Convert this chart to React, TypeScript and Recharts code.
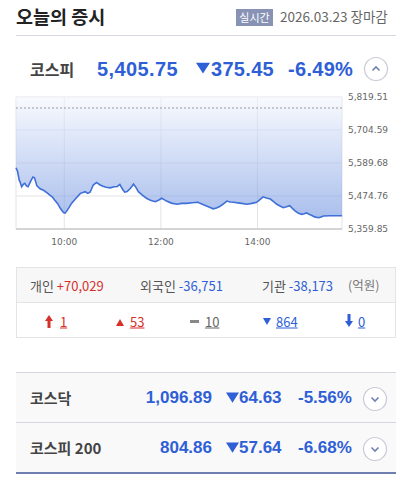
import React from "react";
import {
  Area,
  AreaChart,
  CartesianGrid,
  ReferenceLine,
  XAxis,
  YAxis,
} from "recharts";

// minutes since midnight, KOSPI intraday
const times = [
  540, 542, 544, 545, 547, 549, 551, 553, 555, 558, 561, 563, 566, 570, 574, 578,
  582, 585, 588, 592, 595, 599, 601, 603, 606, 609, 614, 620, 624, 626, 629, 632,
  634, 636, 640, 644, 648, 652, 657, 662, 666, 669, 672, 675, 678, 682, 686, 689,
  692, 697, 702, 707, 713, 717, 721, 724, 727, 733, 740, 746, 752, 759, 766, 773,
  779, 785, 789, 793, 797, 802, 806, 810, 818, 827, 833, 839, 843, 847, 851, 856,
  860, 864, 868, 872, 876, 880, 884, 887, 891, 895, 898, 901, 904, 907, 911, 916,
  919, 922, 930, 938, 945,
];
const prices = [
  5573, 5560, 5530, 5524, 5507, 5515, 5519, 5510, 5507, 5525, 5541, 5538, 5510, 5500, 5495, 5487,
  5478, 5472, 5461, 5447, 5432, 5417, 5415, 5422, 5435, 5449, 5465, 5484, 5488, 5490, 5484, 5488,
  5500, 5513, 5522, 5514, 5509, 5505, 5503, 5507, 5508, 5515, 5500, 5488, 5490, 5501, 5516, 5505,
  5490, 5478, 5467, 5460, 5455, 5460, 5467, 5462, 5457, 5450, 5446, 5449, 5449, 5451, 5453, 5444,
  5437, 5430, 5433, 5438, 5446, 5457, 5454, 5453, 5450, 5446, 5449, 5453, 5462, 5472, 5468, 5464,
  5455, 5446, 5440, 5434, 5437, 5441, 5430, 5422, 5415, 5411, 5413, 5416, 5411, 5408, 5402, 5399,
  5402, 5405, 5406, 5406, 5406,
];
const priceTicks = [5359.85, 5474.76, 5589.68, 5704.59, 5819.51];
const timeTicks = [600, 720, 840];
const prevClose = 5781.2;

const investorLabels = ["개인", "외국인", "기관"];
const investorValues = ["+70,029", "-36,751", "-38,173"];
const breadthValues = ["1", "53", "10", "864", "0"];

const otherNames = ["코스닥", "코스피 200"];
const otherPrices = ["1,096.89", "804.86"];
const otherChanges = ["64.63", "57.64"];
const otherRates = ["-5.56%", "-6.68%"];

const BLUE = "#2f5fd6";
const RED = "#d6302b";
const KR = "'Noto Sans CJK KR', sans-serif";
const NUM = "'Liberation Sans', Arial, sans-serif";

const chartData = times.map((t, i) => ({ t, v: prices[i] }));

const fmtTime = (m: number) =>
  `${Math.floor(m / 60)}:${String(m % 60).padStart(2, "0")}`;
const fmtPrice = (v: number) =>
  v.toLocaleString("en-US", { minimumFractionDigits: 2, maximumFractionDigits: 2 });

function T({
  x,
  y,
  size,
  color,
  bold,
  font,
  right,
  children,
  underline,
  spacing,
}: any) {
  return (
    <div
      style={{
        position: "absolute",
        left: right ? undefined : x,
        right: right ? 407 - x : undefined,
        top: y,
        transform: "translateY(-50%)",
        fontSize: size,
        lineHeight: 1,
        color,
        fontWeight: bold ? 700 : 400,
        fontFamily: font ?? KR,
        whiteSpace: "nowrap",
        letterSpacing: spacing ?? 0,
        textDecoration: underline ? "underline" : "none",
      }}
    >
      {children}
    </div>
  );
}

function Circle({ x, y, up }: { x: number; y: number; up?: boolean }) {
  return (
    <svg
      width={26}
      height={26}
      style={{ position: "absolute", left: x - 13, top: y - 13 }}
    >
      <circle cx={13} cy={13} r={11.5} fill="#fff" stroke="#c9cad6" strokeWidth={1.2} />
      <path
        d={up ? "M9.5 14.5 L13 11 L16.5 14.5" : "M9.5 11.5 L13 15 L16.5 11.5"}
        fill="none"
        stroke="#7080b0"
        strokeWidth={1.6}
      />
    </svg>
  );
}

function Down({ x, y, size }: { x: number; y: number; size: number }) {
  return (
    <svg width={size} height={size} style={{ position: "absolute", left: x, top: y - size / 2 }}>
      <path d={`M0 ${size * 0.12} L${size} ${size * 0.12} L${size / 2} ${size * 0.9} Z`} fill={BLUE} />
    </svg>
  );
}

export default function App() {
  const xs = [30, 140, 262];
  const breadthX = [60, 130, 205, 276, 358];
  const breadthColor = [RED, RED, "#666", BLUE, BLUE];
  return (
    <div
      style={{
        position: "fixed",
        left: 0,
        top: 0,
        width: 407,
        height: 481,
        background: "#fff",
        overflow: "hidden",
      }}
    >
      <T x={16} y={16} size={18.5} color="#222" bold>
        오늘의 증시
      </T>
      <div
        style={{
          position: "absolute",
          left: 236,
          top: 9,
          width: 37,
          height: 17,
          background: "#8892b5",
          color: "#fff",
          fontFamily: KR,
          fontSize: 11,
          lineHeight: "17px",
          textAlign: "center",
        }}
      >
        실시간
      </div>
      <T x={280} y={17} size={13.5} color="#666">
        2026.03.23 장마감
      </T>
      <div style={{ position: "absolute", left: 16, top: 35, width: 380, height: 1, background: "#d6d6de" }} />

      <T x={30} y={69} size={16} color="#444" bold>
        코스피
      </T>
      <T x={97} y={69} size={20} color={BLUE} bold font={NUM} spacing={0.4}>
        5,405.75
      </T>
      <Down x={196} y={68} size={14} />
      <T x={211} y={69} size={20} color={BLUE} bold font={NUM} spacing={0.3}>
        375.45
      </T>
      <T x={288} y={69} size={20} color={BLUE} bold font={NUM} spacing={0.3}>
        -6.49%
      </T>
      <Circle x={376} y={69} up />

      <div style={{ position: "absolute", left: 0, top: 85 }}>
        <AreaChart
          width={407}
          height={170}
          data={chartData}
          margin={{ top: 12, right: 0, left: 16, bottom: 6 }}
        >
          <defs>
            <linearGradient id="kospiFill" x1="0" y1="0" x2="0" y2="1">
              <stop offset="0%" stopColor="#f3f6fd" stopOpacity={0.95} />
              <stop offset="100%" stopColor="#6a8fdf" stopOpacity={0.95} />
            </linearGradient>
          </defs>
          <CartesianGrid stroke="#e4e4e8" />
          <XAxis
            dataKey="t"
            type="number"
            domain={[540, 945]}
            ticks={timeTicks}
            tickFormatter={fmtTime}
            height={20}
            tickLine={false}
            axisLine={{ stroke: "#b8b8b8" }}
            tick={{ fontSize: 9, fill: "#666", fontFamily: "'DejaVu Sans'" }}
            tickMargin={4}
          />
          <YAxis
            orientation="right"
            type="number"
            domain={[priceTicks[0], priceTicks[4]]}
            ticks={priceTicks}
            tickFormatter={fmtPrice}
            width={65}
            tickLine={false}
            axisLine={false}
            tickSize={0}
            tickMargin={6}
            tick={{ fontSize: 9, fill: "#666", fontFamily: "'DejaVu Sans'", textAnchor: "start" }}
          />
          <ReferenceLine y={prevClose} stroke="#9a9a9a" strokeDasharray="2 2" />
          <Area
            type="linear"
            dataKey="v"
            baseValue={priceTicks[4]}
            stroke="#3f6fd8"
            strokeWidth={1.6}
            fill="url(#kospiFill)"
            isAnimationActive={false}
            dot={false}
          />
        </AreaChart>
      </div>

      <div
        style={{
          position: "absolute",
          left: 16,
          top: 267,
          width: 378,
          height: 69,
          border: "1px solid #e4e4e6",
        }}
      >
        <div style={{ height: 34, background: "#f7f7f8", borderBottom: "1px solid #e4e4e6" }} />
      </div>
      {investorLabels.map((l, i) => (
        <T key={l} x={xs[i]} y={285} size={13} color="#555">
          {l}{" "}
          <span style={{ color: i === 0 ? RED : BLUE }}>{investorValues[i]}</span>
        </T>
      ))}
      <T x={348} y={285} size={12.5} color="#777">
        (억원)
      </T>

      <svg width={407} height={20} style={{ position: "absolute", left: 0, top: 311 }}>
        <path d="M45 10 L49 4 L53 10 L50.5 10 L50.5 17 L47.5 17 L47.5 10 Z" fill={RED} />
        <path d="M116 15 L120 8 L124 15 Z" fill={RED} />
        <rect x={190} y={9} width={9} height={3} fill="#888" />
        <path d="M263 7 L271 7 L267 14 Z" fill={BLUE} />
        <path d="M345 10 L349 16 L353 10 L350.5 10 L350.5 3 L347.5 3 L347.5 10 Z" fill={BLUE} />
      </svg>
      {breadthValues.map((v, i) => (
        <T key={i} x={breadthX[i]} y={321} size={13} color={breadthColor[i]} underline>
          {v}
        </T>
      ))}

      <div
        style={{
          position: "absolute",
          left: 16,
          top: 372,
          width: 380,
          height: 100,
          background: "#f9f9fa",
          borderTop: "1px solid #d6d6de",
        }}
      />
      <div style={{ position: "absolute", left: 16, top: 422, width: 380, height: 1, background: "#d6d6de" }} />
      <div style={{ position: "absolute", left: 16, top: 472, width: 380, height: 2, background: "#6f7db1" }} />
      {otherNames.map((n, i) => {
        const y = 397 + i * 50;
        return (
          <React.Fragment key={n}>
            <T x={30} y={y} size={15} color="#444" bold>
              {n}
            </T>
            <T x={212} y={y} size={17} color={BLUE} bold font={NUM} right>
              {otherPrices[i]}
            </T>
            <Down x={226} y={y} size={13} />
            <T x={239} y={y} size={17} color={BLUE} bold font={NUM}>
              {otherChanges[i]}
            </T>
            <T x={298} y={y} size={17} color={BLUE} bold font={NUM}>
              {otherRates[i]}
            </T>
            <Circle x={375} y={y + 2} />
          </React.Fragment>
        );
      })}
    </div>
  );
}
